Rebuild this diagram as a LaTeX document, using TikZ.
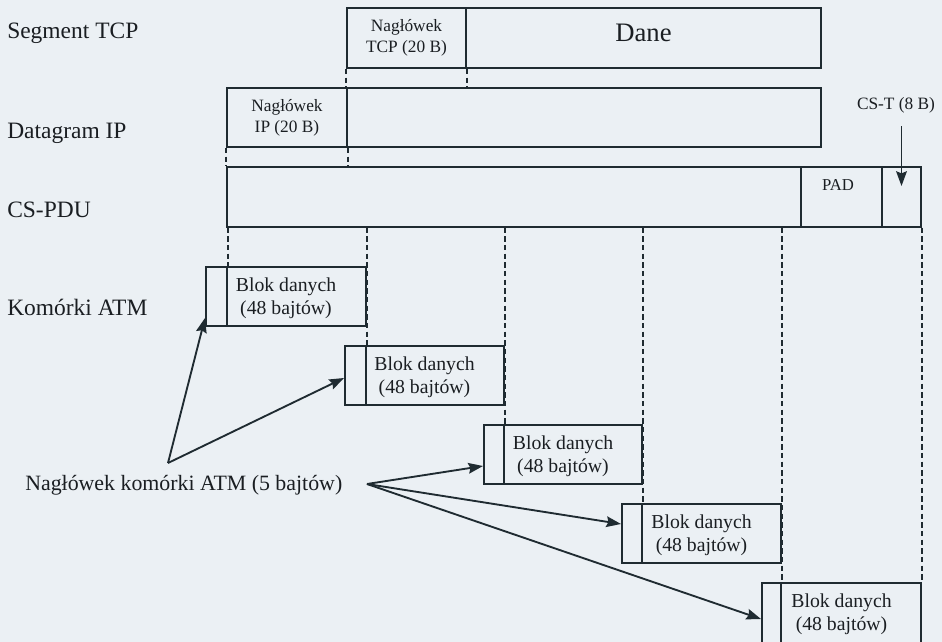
\documentclass[tikz,border=0pt]{standalone}
\usepackage{fontspec}
\setmainfont{Liberation Serif}
\usetikzlibrary{fit,arrows.meta,calc}
\definecolor{bg}{HTML}{EBF0F4}
\definecolor{ink}{HTML}{1F2B31}
\definecolor{txt}{HTML}{1A1E22}
\begin{document}
\begin{tikzpicture}[x=0.75pt,y=-0.75pt,
  box/.style={draw=ink, line width=1.5pt, inner sep=0pt},
  guide/.style={draw=ink, line width=1.3pt, dash pattern=on 4pt off 2.5pt},
  ptr/.style={draw=ink, line width=1.4pt, -{Stealth[length=11pt,width=8pt,inset=1.5pt]}},
  lab/.style={anchor=base west, text=txt, font=\fontsize{17.6}{20}\selectfont, inner sep=0pt},
  hdr/.style={text=txt, font=\fontsize{13}{15.5}\selectfont, align=center, inner sep=0pt},
  blk/.style={text=txt, font=\fontsize{14.8}{17.3}\selectfont, align=center, inner sep=0pt}]

\fill[bg] (0,0) rectangle (942,642);
\useasboundingbox (0,0) rectangle (942,642);

% row labels
\node[lab] (lTCP) at (7,39) {Segment TCP};
\node[lab] (lIP) at (7,138) {Datagram IP};
\node[lab] (lCS) at (7,217) {CS-PDU};
\node[lab] (lATM) at (7,315) {Komórki ATM};
\node[lab, font=\fontsize{16.4}{19}\selectfont] (lHdr) at (25,490) {Nagłówek komórki ATM (5 bajtów)};

% TCP segment
\node[box, fit={(347,8) (466,68)}] (tcph) {};
\node[box, fit={(466,8) (821,68)}] (tcpd) {};
\node[hdr] (tcpht) at (tcph.center) {Nagłówek\\TCP (20 B)};
\node[text=txt, font=\fontsize{20}{24}\selectfont, inner sep=0pt] (dane) at (643.5,33) {Dane};

% IP datagram
\node[box, fit={(227,88) (347,147)}] (iph) {};
\node[box, fit={(347,88) (821,147)}] (ipd) {};
\node[hdr] (ipht) at (iph.center) {Nagłówek\\IP (20 B)};

% CS-PDU
\node[box, fit={(227,167) (801,226.5)}] (csd) {};
\node[box, fit={(801,167) (882,226.5)}] (pad) {};
\node[box, fit={(882,167) (921,226.5)}] (cst) {};
\node[text=txt, font=\fontsize{12.5}{15}\selectfont, inner sep=0pt] (padt) at (838,185) {PAD};
\node[hdr] (cstl) at (896,105) {CS-T (8 B)};
\draw[ptr] ($(cst.north)+(0,-40)$) -- ($(cst.north)+(0,20)$);

% guides between layers
\draw[guide] (tcph.south west) -- (tcph.south west |- ipd.north);
\draw[guide] (tcph.south east) -- (tcph.south east |- ipd.north);
\draw[guide] (iph.south west) -- (iph.south west |- csd.north);
\draw[guide] (iph.south east) -- (iph.south east |- csd.north);

% ATM cells
\node[box, fit={(206,266.7) (227,325.5)}] (c1h) {};
\node[box, fit={(227,266.7) (366,325.5)}] (c1d) {};
\node[box, fit={(345,345.7) (366,404.5)}] (c2h) {};
\node[box, fit={(366,345.7) (504,404.5)}] (c2d) {};
\node[box, fit={(484,424.5) (504,483.5)}] (c3h) {};
\node[box, fit={(504,424.5) (642,483.5)}] (c3d) {};
\node[box, fit={(622,503.5) (642,562.5)}] (c4h) {};
\node[box, fit={(642,503.5) (781,562.5)}] (c4d) {};
\node[box, fit={(762,583) (781,648)}] (c5h) {};
\node[box, fit={(781,583) (921,648)}] (c5d) {};

\node[blk] (t1) at (286,298) {Blok danych\\(48 bajtów)};
\node[blk] (t2) at (424.5,377) {Blok danych\\(48 bajtów)};
\node[blk] (t3) at (563,456) {Blok danych\\(48 bajtów)};
\node[blk] (t4) at (701.5,535) {Blok danych\\(48 bajtów)};
\node[blk] (t5) at (841.5,614.5) {Blok danych\\(48 bajtów)};

% guides from CS-PDU to cells
\draw[guide] (c1h.north east |- csd.south) -- (c1h.north east);
\draw[guide] (c2h.north east |- csd.south) -- (c2h.north east);
\draw[guide] (c3h.north east |- csd.south) -- (c3h.north east);
\draw[guide] (c4h.north east |- csd.south) -- (c4h.north east);
\draw[guide] (c5h.north east |- csd.south) -- (c5h.north east);
\draw[guide] (c5d.north east |- cst.south) -- (c5d.north east);

% pointers to cell headers
\coordinate (hubL) at (168,463);
\coordinate (hubR) at (367,484);
\draw[ptr] (hubL) -- ($(c1h.south west)+(0,-8.5)$);
\draw[ptr] (hubL) -- ($(c2h.south west)+(0,-27.5)$);
\draw[ptr] (hubR) -- ($(c3h.south west)+(0,-18.5)$);
\draw[ptr] (hubR) -- ($(c4h.south west)+(0,-39.5)$);
\draw[ptr] (hubR) -- ($(c5h.north west)+(0,37)$);
\end{tikzpicture}
\end{document}
